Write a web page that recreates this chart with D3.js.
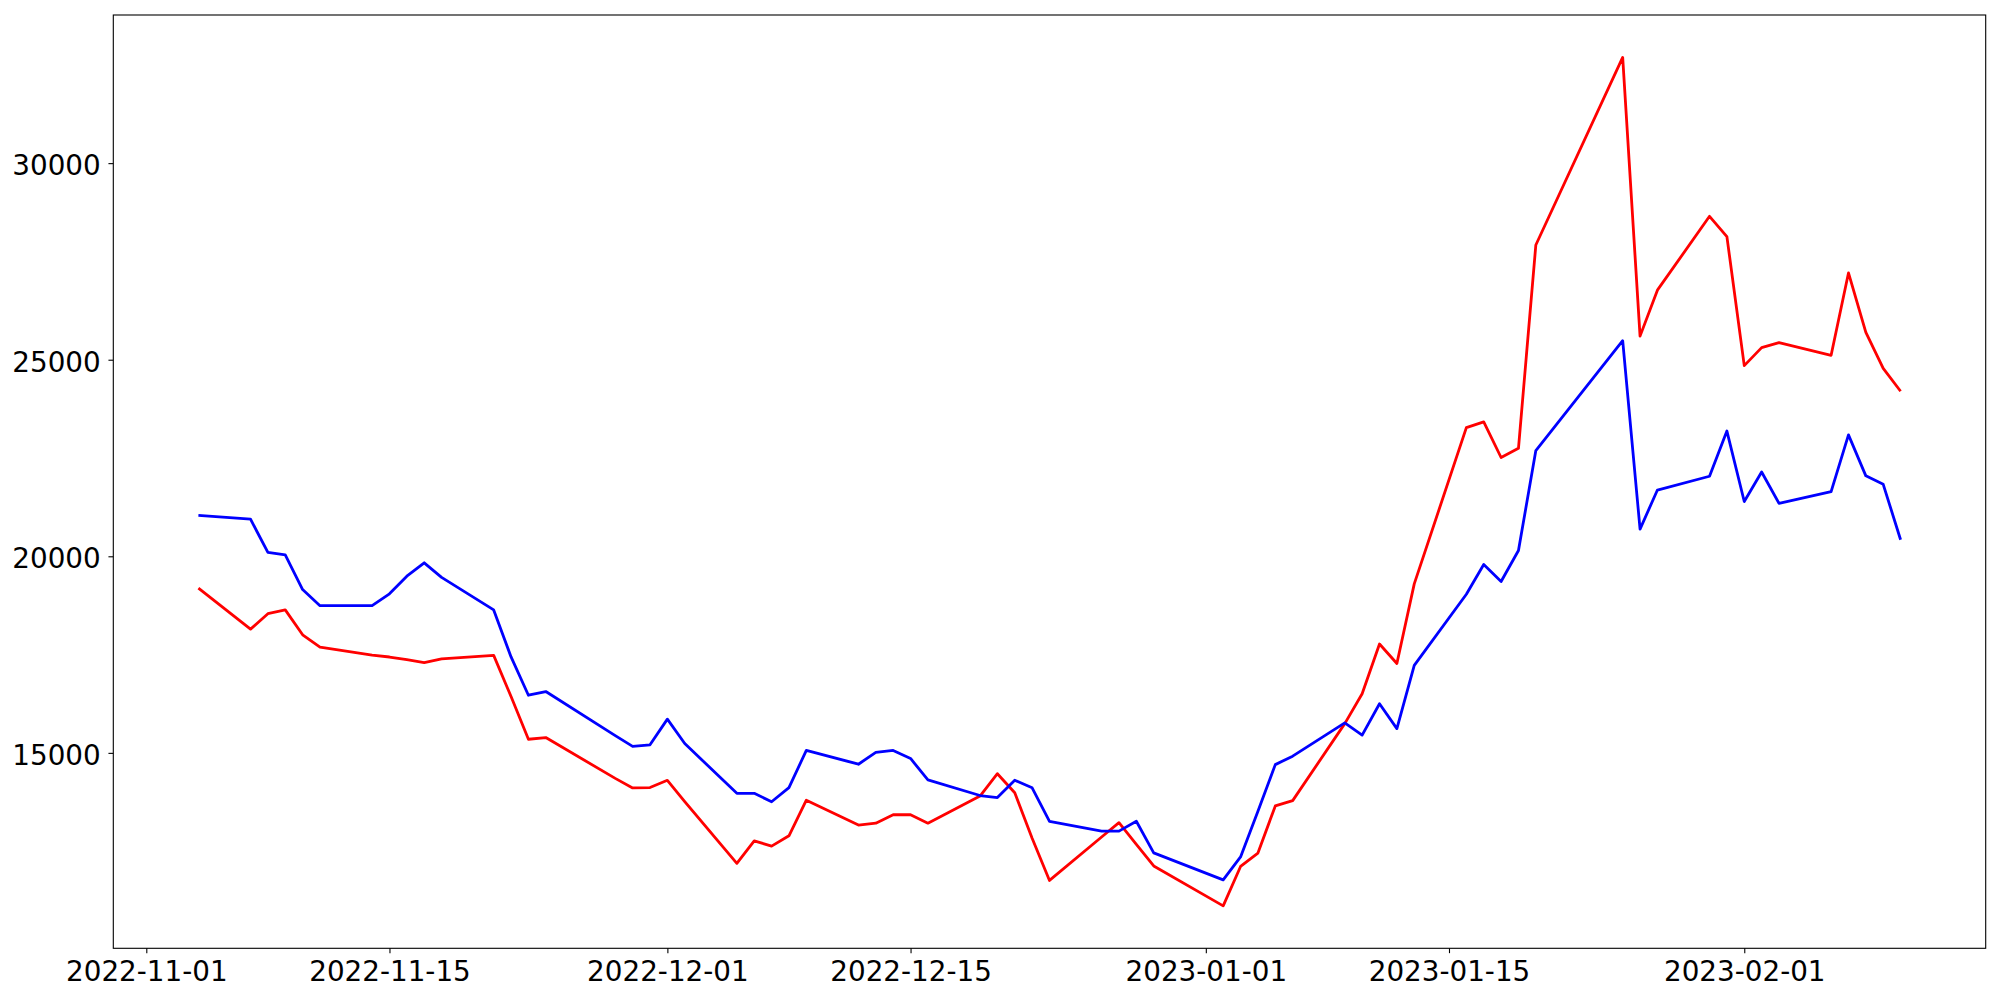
<!DOCTYPE html>
<html>
<head>
<meta charset="utf-8">
<script src="https://d3js.org/d3.v7.min.js"></script>
<style>
	body { margin: 0; background: white; }
	svg { display: block; }
</style>
</head>
<body>
<svg width="2000" height="1000"></svg>
<script>
var svg = d3.select('svg')

var width = +svg.attr("width")
var height = +svg.attr("height")

//Plot area, in pixels (window.top is taken, hence the prefix)
var plotLeft = 113.3
var plotRight = 1985.7
var plotTop = 15
var plotBottom = 948.3

var fontSize = 27.8
var tickLen = 4.86
var tickPad = 7.7

var dates = [
	"2022-11-04", "2022-11-07", "2022-11-08", "2022-11-09", "2022-11-10", "2022-11-11",
	"2022-11-14", "2022-11-15", "2022-11-16", "2022-11-17", "2022-11-18",
	"2022-11-21", "2022-11-22", "2022-11-23", "2022-11-24",
	"2022-11-28", "2022-11-29", "2022-11-30", "2022-12-01", "2022-12-02",
	"2022-12-05", "2022-12-06", "2022-12-07", "2022-12-08", "2022-12-09",
	"2022-12-12", "2022-12-13", "2022-12-14", "2022-12-15", "2022-12-16",
	"2022-12-19", "2022-12-20", "2022-12-21", "2022-12-22", "2022-12-23",
	"2022-12-26", "2022-12-27", "2022-12-28", "2022-12-29",
	"2023-01-02", "2023-01-03", "2023-01-04", "2023-01-05", "2023-01-06",
	"2023-01-09", "2023-01-10", "2023-01-11", "2023-01-12", "2023-01-13",
	"2023-01-16", "2023-01-17", "2023-01-18", "2023-01-19", "2023-01-20",
	"2023-01-25", "2023-01-26", "2023-01-27",
	"2023-01-30", "2023-01-31", "2023-02-01", "2023-02-02", "2023-02-03",
	"2023-02-06", "2023-02-07", "2023-02-08", "2023-02-09", "2023-02-10"
]

var redValues = [
	19191, 18147, 18539, 18636, 18003, 17692,
	17486, 17438, 17370, 17293, 17389,
	17480, 16432, 15346, 15389,
	14351, 14107, 14117, 14302, 13757,
	12189, 12763, 12627, 12890, 13796,
	13163, 13211, 13426, 13426, 13211,
	13900, 14470, 13985, 12830, 11755,
	12860, 13224, 12674, 12123,
	11108, 12111, 12452, 13650, 13786,
	15743, 16503, 17769, 17272, 19298,
	23272, 23418, 22513, 22747, 27918,
	32689, 25600, 26769,
	28648, 28132, 24850, 25308, 25434,
	25113, 27207, 25697, 24782, 24198
]

var blueValues = [
	21041, 20944, 20097, 20038, 19153, 18743,
	18743, 19046, 19494, 19834, 19463,
	18636, 17440, 16466, 16560,
	15440, 15165, 15205, 15858, 15237,
	13971, 13971, 13757, 14117, 15062,
	14711, 15013, 15062, 14857, 14312,
	13915, 13862, 14303, 14112, 13260,
	13010, 13010, 13260, 12457,
	11770, 12354, 13513, 14701, 14916,
	15763, 15451, 16250, 15617, 17224,
	19035, 19790, 19358, 20147, 22689,
	25483, 20692, 21685,
	22036, 23185, 21393, 22143, 21345,
	21646, 23088, 22046, 21831, 20420
]

var xTicks = ["2022-11-01", "2022-11-15", "2022-12-01", "2022-12-15", "2023-01-01", "2023-01-15", "2023-02-01"]
var yTicks = [15000, 20000, 25000, 30000]

var series = [
	{name: "red", values: redValues, color: "#ff0000"},
	{name: "blue", values: blueValues, color: "#0000ff"}
]

var parse = d3.utcParse("%Y-%m-%d")
var days = dates.map(parse)

//Matplotlib style 5% margins round the data
var xExt = d3.extent(days)
var xPad = (xExt[1] - xExt[0]) * 0.05
var allValues = redValues.concat(blueValues)
var yExt = d3.extent(allValues)
var yPad = (yExt[1] - yExt[0]) * 0.05

var x = d3.scaleUtc()
	.domain([new Date(+xExt[0] - xPad), new Date(+xExt[1] + xPad)])
	.range([plotLeft, plotRight])

var y = d3.scaleLinear()
	.domain([yExt[0] - yPad, yExt[1] + yPad])
	.range([plotBottom, plotTop])

svg.append('rect')
	.attr('width', width)
	.attr('height', height)
	.attr('fill', 'white')

//Lines
var line = d3.line()
	.x(function(d, i) { return x(days[i]) })
	.y(function(d) { return y(d) })

svg.selectAll('path.series')
	.data(series)
	.enter()
	.append('path')
	.attr('class', 'series')
	.attr('d', function(d) { return line(d.values) })
	.attr('fill', 'none')
	.attr('stroke', function(d) { return d.color })
	.attr('stroke-width', 2.8)
	.attr('stroke-linejoin', 'round')
	.attr('stroke-linecap', 'butt')

//Axes
var xAxis = d3.axisBottom(x)
	.tickValues(xTicks.map(parse))
	.tickFormat(d3.utcFormat("%Y-%m-%d"))
	.tickSize(tickLen)
	.tickPadding(tickPad)

var yAxis = d3.axisLeft(y)
	.tickValues(yTicks)
	.tickFormat(d3.format("d"))
	.tickSize(tickLen)
	.tickPadding(tickPad)

var gx = svg.append('g')
	.attr('transform', 'translate(0,' + plotBottom + ')')
	.call(xAxis)

var gy = svg.append('g')
	.attr('transform', 'translate(' + plotLeft + ',0)')
	.call(yAxis)

gx.select('.domain').remove()
gy.select('.domain').remove()

svg.selectAll('.tick line')
	.attr('stroke', 'black')
	.attr('stroke-width', 1.1)

svg.selectAll('.tick text')
	.attr('fill', 'black')
	.style('font-family', '"DejaVu Sans", sans-serif')
	.style('font-size', fontSize + 'px')

gy.selectAll('.tick text').attr('dy', '0.42em')

//Frame round the plot area
svg.append('rect')
	.attr('x', plotLeft)
	.attr('y', plotTop)
	.attr('width', plotRight - plotLeft)
	.attr('height', plotBottom - plotTop)
	.attr('fill', 'none')
	.attr('stroke', 'black')
	.attr('stroke-width', 1.1)
</script>
</body>
</html>
